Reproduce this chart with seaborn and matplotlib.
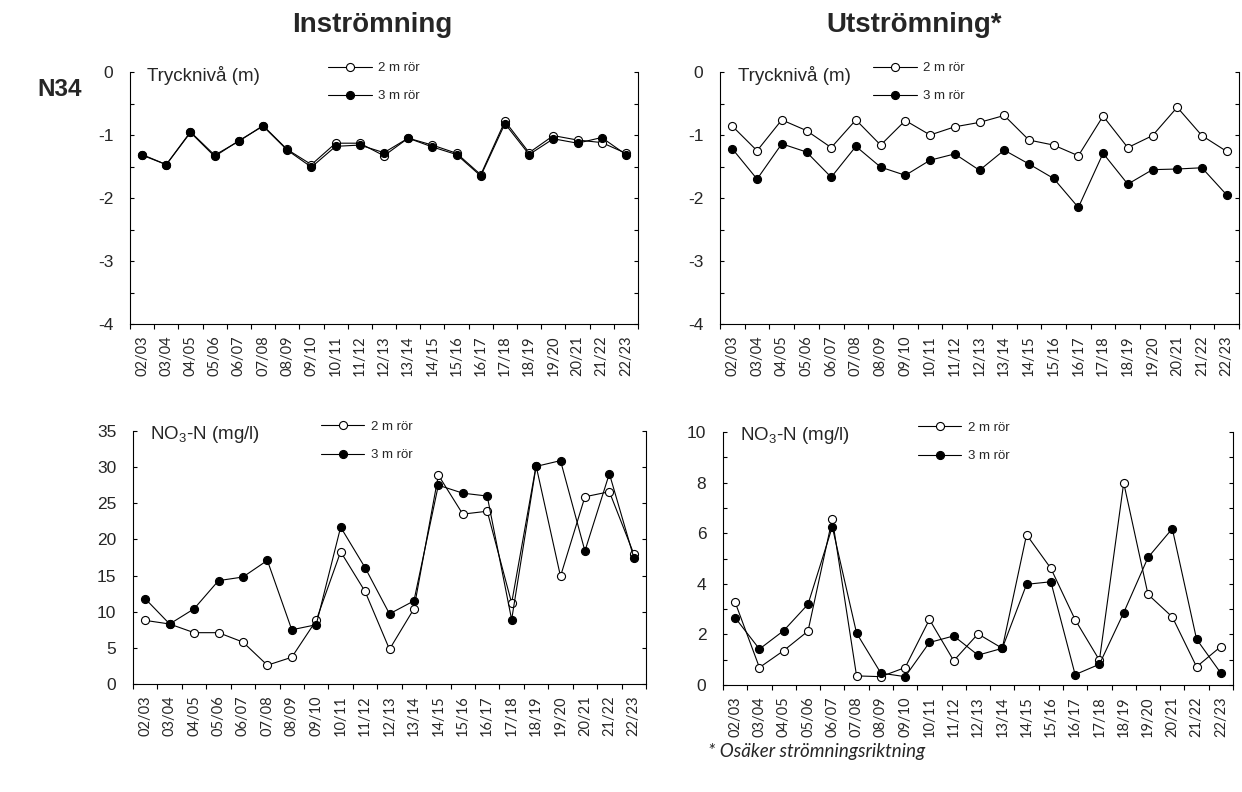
import numpy as np
import pandas as pd
import matplotlib
matplotlib.use('Agg')
import matplotlib.pyplot as plt
from matplotlib.ticker import MultipleLocator, FixedLocator
import seaborn as sns

# Perioder (x-axel)
perioder = ['02/03', '03/04', '04/05', '05/06', '06/07', '07/08', '08/09', '09/10',
            '10/11', '11/12', '12/13', '13/14', '14/15', '15/16', '16/17', '17/18',
            '18/19', '19/20', '20/21', '21/22', '22/23']

# Trycknivå (m), inströmning
tryck_in_2m = [-1.31, -1.47, -0.95, -1.32, -1.10, -0.85, -1.23, -1.47, -1.13, -1.13, -1.33,
               -1.05, -1.16, -1.29, -1.63, -0.78, -1.28, -1.01, -1.08, -1.12, -1.29]
tryck_in_3m = [-1.32, -1.47, -0.96, -1.34, -1.09, -0.86, -1.24, -1.51, -1.18, -1.16, -1.28,
               -1.05, -1.19, -1.31, -1.65, -0.82, -1.31, -1.06, -1.13, -1.04, -1.31]

# Trycknivå (m), utströmning
tryck_ut_2m = [-0.86, -1.25, -0.76, -0.93, -1.20, -0.76, -1.16, -0.77, -1.00, -0.87, -0.80,
               -0.69, -1.08, -1.16, -1.33, -0.70, -1.20, -1.01, -0.56, -1.01, -1.26]
tryck_ut_3m = [-1.22, -1.70, -1.14, -1.27, -1.67, -1.18, -1.51, -1.64, -1.40, -1.30, -1.56,
               -1.24, -1.46, -1.69, -2.15, -1.29, -1.78, -1.55, -1.54, -1.52, -1.95]

# NO3-N (mg/l), inströmning
no3_in_2m = [8.8, 8.3, 7.1, 7.1, 5.8, 2.6, 3.7, 8.8, 18.3, 12.8, 4.8,
             10.4, 28.9, 23.5, 23.9, 11.2, 30.2, 14.9, 25.9, 26.6, 18.0]
no3_in_3m = [11.8, 8.3, 10.4, 14.3, 14.8, 17.1, 7.5, 8.2, 21.7, 16.1, 9.7,
             11.5, 27.5, 26.4, 26.0, 8.9, 30.1, 30.9, 18.4, 29.1, 17.5]

# NO3-N (mg/l), utströmning
no3_ut_2m = [3.27, 0.69, 1.36, 2.13, 6.57, 0.36, 0.33, 0.69, 2.59, 0.96, 2.02,
             1.45, 5.94, 4.61, 2.58, 0.98, 7.99, 3.58, 2.69, 0.72, 1.52]
no3_ut_3m = [2.66, 1.42, 2.15, 3.19, 6.25, 2.05, 0.47, 0.33, 1.68, 1.94, 1.18,
             1.45, 3.98, 4.08, 0.41, 0.82, 2.86, 5.04, 6.18, 1.81, 0.47]

sns.set_theme(style='ticks')
plt.rcParams['font.family'] = ['Liberation Sans', 'DejaVu Sans']
plt.rcParams['mathtext.fontset'] = 'custom'
plt.rcParams['mathtext.rm'] = 'Liberation Sans'
plt.rcParams['axes.unicode_minus'] = False
plt.rcParams['axes.edgecolor'] = 'black'
plt.rcParams['axes.linewidth'] = 0.8

W, H = 1242, 792
fig = plt.figure(figsize=(W / 100, H / 100), dpi=100)


def ny_axel(vanster, hoger, topp, botten):
    return fig.add_axes([vanster / W, 1 - botten / H, (hoger - vanster) / W, (botten - topp) / H])


def rita(ax, v2, v3, ylim, major, minor, rubrik, leg_x):
    df = pd.DataFrame({'x': np.arange(len(perioder)), 'v2': v2, 'v3': v3})
    sns.lineplot(data=df, x='x', y='v2', ax=ax, color='black', lw=0.8, marker='o',
                 markersize=5.8, markerfacecolor='white', markeredgecolor='black',
                 markeredgewidth=0.8, label='2 m rör')
    sns.lineplot(data=df, x='x', y='v3', ax=ax, color='black', lw=0.8, marker='o',
                 markersize=5.8, markerfacecolor='black', markeredgecolor='black',
                 markeredgewidth=0.8, label='3 m rör')

    ax.set_xlim(-0.5, len(perioder) - 0.5)
    ax.set_ylim(*ylim)
    ax.set_xlabel('')
    ax.set_ylabel('')
    ax.spines['top'].set_visible(False)

    # etiketter mitt i varje period, streck mellan perioderna
    ax.set_xticks(np.arange(len(perioder)))
    ax.set_xticklabels(perioder, rotation=90, fontfamily='Lato', fontsize=10.5)
    ax.xaxis.set_minor_locator(FixedLocator(np.arange(-0.5, len(perioder), 1)))
    ax.tick_params(axis='x', which='major', length=0, pad=8)
    ax.tick_params(axis='x', which='minor', direction='out', length=3.8, width=0.8, color='black')

    ax.yaxis.set_major_locator(MultipleLocator(major))
    if minor:
        ax.yaxis.set_minor_locator(MultipleLocator(minor))
    ax.tick_params(axis='y', which='both', direction='in', left=True, right=True,
                   length=3.2, width=0.8, color='black', labelsize=12.5, pad=12)

    ax.text(0.034, 0.985, rubrik, transform=ax.transAxes, fontsize=13.5,
            va='center', ha='left')

    ax.legend(loc='upper left', bbox_to_anchor=(leg_x, 1.04), frameon=False, fontsize=9.5,
              handlelength=3.3, labelspacing=1.2, handletextpad=0.5, borderpad=0,
              borderaxespad=0)


ax_tl = ny_axel(130, 638, 72, 324)
ax_tr = ny_axel(720, 1239, 72, 324)
ax_bl = ny_axel(133, 646, 431, 684)
ax_br = ny_axel(723, 1233, 432, 685)

rita(ax_tl, tryck_in_2m, tryck_in_3m, (-4, 0), 1, 0.5, 'Trycknivå (m)', 0.39)
rita(ax_tr, tryck_ut_2m, tryck_ut_3m, (-4, 0), 1, 0.5, 'Trycknivå (m)', 0.295)
rita(ax_bl, no3_in_2m, no3_in_3m, (0, 35), 5, None, 'NO$_3$-N (mg/l)', 0.366)
rita(ax_br, no3_ut_2m, no3_ut_3m, (0, 10), 2, 1, 'NO$_3$-N (mg/l)', 0.382)

fig.text(372 / W, 1 - 25 / H, 'Inströmning', fontsize=20, fontweight='bold',
         ha='center', va='center')
fig.text(914 / W, 1 - 25 / H, 'Utströmning*', fontsize=20, fontweight='bold',
         ha='center', va='center')
fig.text(37 / W, 1 - 90 / H, 'N34', fontsize=17.5, fontweight='bold',
         ha='left', va='center')
fig.text(708 / W, 1 - 752 / H, '* Osäker strömningsriktning', fontsize=13.5,
         fontstyle='italic', fontfamily='Lato', ha='left', va='center')

fig.savefig('out.png', dpi=100)
